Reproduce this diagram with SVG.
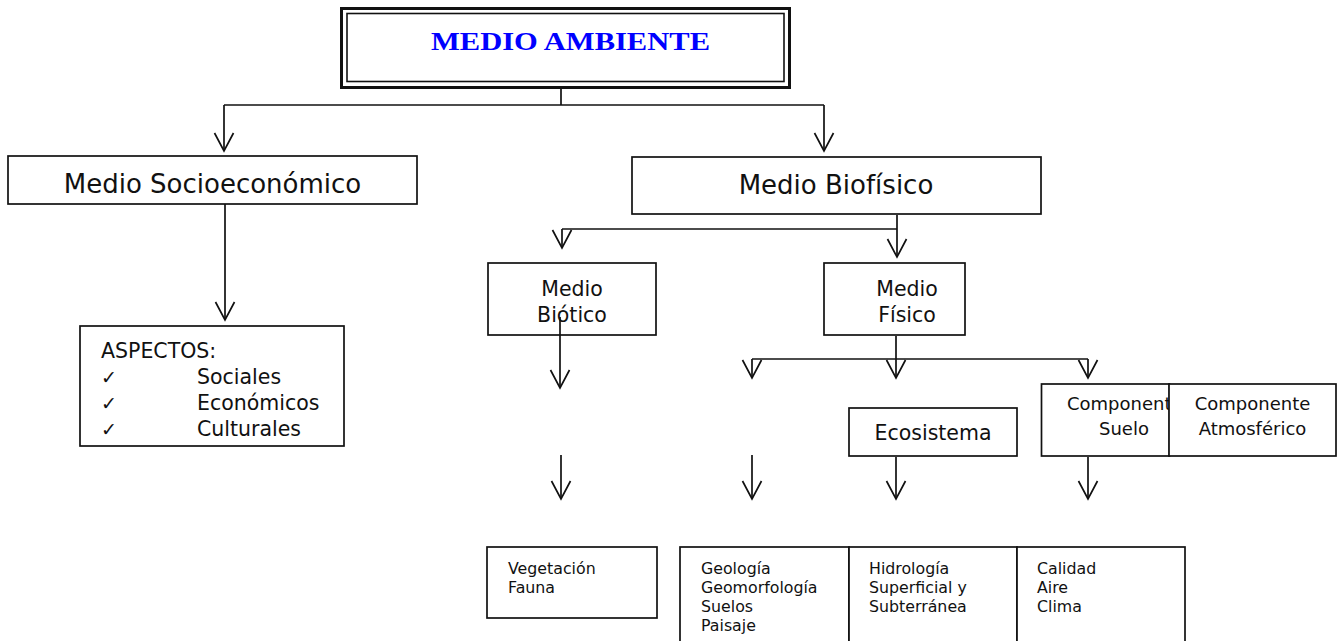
<svg xmlns="http://www.w3.org/2000/svg" width="1338" height="641" viewBox="0 0 1338 641">
<style>
  .box { fill: #fff; stroke: #111; stroke-width: 1.7; }
  .t { font-family: "DejaVu Sans", Verdana, sans-serif; fill: #111; }
  .ln { fill: none; stroke: #111; stroke-width: 1.7; }
  .arr { marker-end: url(#ah); }
</style>
<defs>
  <marker id="ah" markerUnits="userSpaceOnUse" markerWidth="22" markerHeight="24" refX="18" refY="10.5" orient="auto" overflow="visible">
    <path d="M0,1 L18,10.5 L0,20" fill="none" stroke="#111" stroke-width="1.7"/>
  </marker>
</defs>
<rect width="1338" height="641" fill="#fff"/>

<g id="medio-ambiente">
  <rect x="341.5" y="8.5" width="448" height="79" fill="#fff" stroke="#111" stroke-width="3"/>
  <rect x="347" y="13.5" width="437" height="68" fill="none" stroke="#111" stroke-width="1.6"/>
  <text x="431" y="50" font-family="Liberation Serif, serif" font-weight="bold" font-size="26" fill="#0000ff" textLength="279" lengthAdjust="spacingAndGlyphs">MEDIO AMBIENTE</text>
</g>

<g id="medio-socioeconomico">
  <rect class="box" x="8" y="156" width="409" height="48"/>
  <text class="t" x="212.5" y="193" font-size="26" text-anchor="middle">Medio Socioeconómico</text>
</g>

<g id="aspectos">
  <rect class="box" x="80" y="326" width="264" height="120"/>
  <text class="t" x="101" y="358" font-size="20.5">ASPECTOS:</text>
  <text class="t" x="101" y="384" font-size="19">✓</text>
  <text class="t" x="101" y="410" font-size="19">✓</text>
  <text class="t" x="101" y="436" font-size="19">✓</text>
  <text class="t" x="197" y="384" font-size="20.5">Sociales</text>
  <text class="t" x="197" y="410" font-size="20.5">Económicos</text>
  <text class="t" x="197" y="436" font-size="20.5">Culturales</text>
</g>

<g id="medio-biofisico">
  <rect class="box" x="632" y="157" width="409" height="57" stroke-width="2.2"/>
  <text class="t" x="836" y="194" font-size="26" text-anchor="middle">Medio Biofísico</text>
</g>

<g id="medio-biotico">
  <rect class="box" x="488" y="263" width="168" height="72"/>
  <text class="t" x="572" y="296" font-size="20.5" text-anchor="middle">Medio</text>
  <text class="t" x="572" y="322" font-size="20.5" text-anchor="middle">Biótico</text>
</g>

<g id="medio-fisico">
  <rect class="box" x="824" y="263" width="141" height="72"/>
  <text class="t" x="907" y="296" font-size="20.5" text-anchor="middle">Medio</text>
  <text class="t" x="907" y="322" font-size="20.5" text-anchor="middle">Físico</text>
</g>

<g id="ecosistema">
  <rect class="box" x="849" y="408" width="168" height="48" stroke-width="2"/>
  <text class="t" x="933" y="440" font-size="20.5" text-anchor="middle">Ecosistema</text>
</g>

<g id="componente-suelo">
  <rect class="box" x="1041.5" y="384" width="128" height="72" stroke-width="2"/>
  <text class="t" x="1067" y="410" font-size="18">Componente</text>
  <text class="t" x="1124" y="435" font-size="18" text-anchor="middle">Suelo</text>
</g>

<g id="componente-atmosferico">
  <rect class="box" x="1169" y="384" width="167" height="72" stroke-width="2"/>
  <text class="t" x="1252.5" y="410" font-size="18" text-anchor="middle">Componente</text>
  <text class="t" x="1252.5" y="435" font-size="18" text-anchor="middle">Atmosférico</text>
</g>

<g id="vegetacion-fauna">
  <rect class="box" x="487" y="547" width="170" height="71"/>
  <text class="t" x="508" y="574" font-size="15.8">Vegetación</text>
  <text class="t" x="508" y="593" font-size="15.8">Fauna</text>
</g>

<g id="geologia">
  <rect class="box" x="680" y="547" width="169" height="100"/>
  <text class="t" x="701" y="574" font-size="15.8">Geología</text>
  <text class="t" x="701" y="593" font-size="15.8">Geomorfología</text>
  <text class="t" x="701" y="612" font-size="15.8">Suelos</text>
  <text class="t" x="701" y="631" font-size="15.8">Paisaje</text>
</g>

<g id="hidrologia">
  <rect class="box" x="849" y="547" width="168" height="100"/>
  <text class="t" x="869" y="574" font-size="15.8">Hidrología</text>
  <text class="t" x="869" y="593" font-size="15.8">Superficial y</text>
  <text class="t" x="869" y="612" font-size="15.8">Subterránea</text>
</g>

<g id="calidad">
  <rect class="box" x="1017" y="547" width="168" height="100"/>
  <text class="t" x="1037" y="574" font-size="15.8">Calidad</text>
  <text class="t" x="1037" y="593" font-size="15.8">Aire</text>
  <text class="t" x="1037" y="612" font-size="15.8">Clima</text>
</g>

<g id="connectors">
  <path class="ln" d="M561,88 V105" stroke-width="2.6"/>
  <path class="ln" d="M224,105 H824" stroke-width="2"/>
  <path class="ln arr" d="M224,105 V151"/>
  <path class="ln arr" d="M824,105 V151"/>
  <path class="ln arr" d="M225,204 V320"/>
  <path class="ln" d="M562,229 H897" stroke-width="3"/>
  <path class="ln arr" d="M897,215 V257"/>
  <path class="ln arr" d="M562,229 V248"/>
  <path class="ln arr" d="M560,317 V388"/>
  <path class="ln" d="M752,359 H1088" stroke-width="3"/>
  <path class="ln arr" d="M896,336 V378"/>
  <path class="ln arr" d="M752,359 V378"/>
  <path class="ln arr" d="M1088,359 V378"/>
  <path class="ln arr" d="M561,455 V499"/>
  <path class="ln arr" d="M752,455 V499"/>
  <path class="ln arr" d="M896,457 V499"/>
  <path class="ln arr" d="M1088,457 V499"/>
</g>
</svg>
